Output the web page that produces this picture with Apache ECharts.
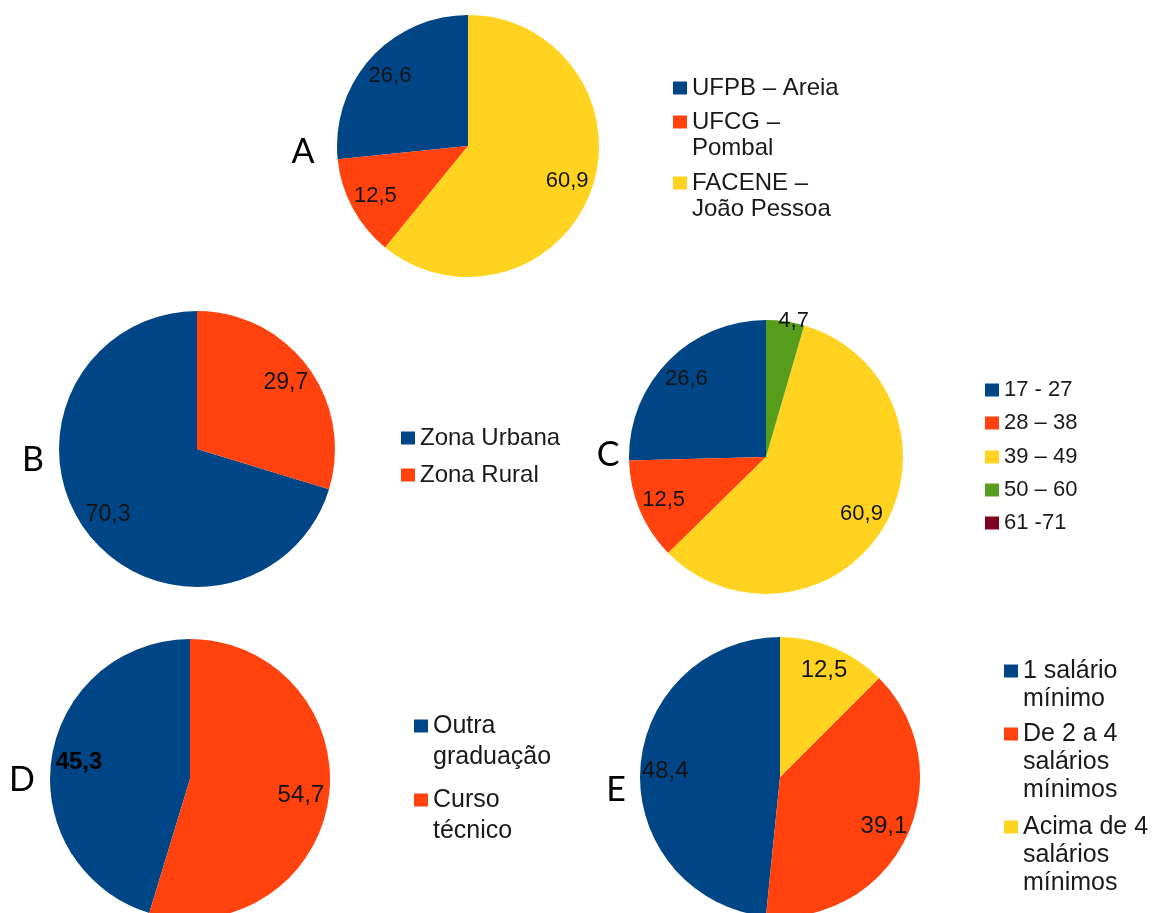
<!DOCTYPE html>
<html>
<head>
<meta charset="utf-8">
<script src="https://cdn.jsdelivr.net/npm/echarts@6/dist/echarts.min.js"></script>
<style>
  html, body { margin: 0; padding: 0; background: #ffffff; }
  #chart { width: 1161px; height: 913px; }
</style>
</head>
<body>
<div id="chart"></div>
<script>
// Perfil dos participantes (%)
const categoriesA = ['UFPB – Areia', 'UFCG –\nPombal', 'FACENE –\nJoão Pessoa'];
const valuesA = [26.6, 12.5, 60.9];

const categoriesB = ['Zona Urbana', 'Zona Rural'];
const valuesB = [70.3, 29.7];

const categoriesC = ['17 - 27', '28 – 38', '39 – 49', '50 – 60', '61 -71'];
const valuesC = [26.6, 12.5, 60.9, 4.7, 0];

const categoriesD = ['Outra\ngraduação', 'Curso\ntécnico'];
const valuesD = [45.3, 54.7];

const categoriesE = ['1 salário\nmínimo', 'De 2 a 4\nsalários\nmínimos', 'Acima de 4\nsalários\nmínimos'];
const valuesE = [48.4, 39.1, 12.5];

const panelLetters = ['A', 'B', 'C', 'D', 'E'];

// Paleta padrão
const palette = ['#004586', '#ff420e', '#ffd320', '#579d1c', '#7e0021'];

// Layout of each panel: pie centre/radius, label ring and font, letter and legend placement
const panels = [
  { cats: categoriesA, vals: valuesA, center: [468, 146], r: 131, labelRatio: 0.78, labelSize: 22,
    letter: [303, 152], legendLeft: 673, legendY: [88, 122, 183], fontSize: 24, lineH: 26 },
  { cats: categoriesB, vals: valuesB, center: [197, 449], r: 138, labelRatio: 0.78, labelSize: 23,
    letter: [33, 460], legendLeft: 401, legendY: [438, 475], fontSize: 24, lineH: 27 },
  { cats: categoriesC, vals: valuesC, center: [766, 457], r: 137, labelRatio: 0.79, labelSize: 22,
    letter: [608, 455], legendLeft: 985, legendY: [390, 423, 457, 490, 523], fontSize: 22, lineH: 26,
    labelShift: { 3: [12, -26] } },
  { cats: categoriesD, vals: valuesD, center: [190, 779], r: 140, labelRatio: 0.78, labelSize: 24,
    letter: [22, 780], legendLeft: 414, legendY: [726, 800], fontSize: 25, lineH: 31, boldFirst: true },
  { cats: categoriesE, vals: valuesE, center: [780, 777], r: 140, labelRatio: 0.80, labelSize: 24,
    letter: [616, 790], legendLeft: 1004, legendY: [671, 734, 827], fontSize: 25, lineH: 28 }
];

const fmt = v => v.toFixed(1).replace('.', ',');

const series = [];
const legends = [];
const graphics = [];

panels.forEach((p, pi) => {
  // filled slices
  series.push({
    type: 'pie',
    center: p.center,
    radius: p.r,
    startAngle: 90,
    clockwise: false,
    silent: true,
    animation: false,
    emphasis: { disabled: true },
    label: { show: false },
    labelLine: { show: false },
    data: p.cats.map((name, i) => ({
      name: name,
      value: p.vals[i],
      itemStyle: { color: palette[i] }
    }))
  });

  // transparent ring carrying the value labels
  const r0 = p.r * (2 * p.labelRatio - 1);
  series.push({
    type: 'pie',
    center: p.center,
    radius: [r0, p.r],
    startAngle: 90,
    clockwise: false,
    silent: true,
    animation: false,
    emphasis: { disabled: true },
    labelLine: { show: false },
    label: {
      show: true,
      position: 'inside',
      fontFamily: 'Liberation Sans',
      fontSize: p.labelSize,
      color: '#141414',
      formatter: prm => (prm.value ? fmt(prm.value) : '')
    },
    data: p.cats.map((name, i) => {
      const lbl = {};
      if (p.boldFirst && i === 0) { lbl.fontWeight = 'bold'; lbl.color = '#000'; }
      if (p.labelShift && p.labelShift[i]) { lbl.offset = p.labelShift[i]; }
      return {
        name: name,
        value: p.vals[i],
        itemStyle: { color: 'rgba(0,0,0,0)' },
        label: lbl
      };
    })
  });

  // one legend entry per category; leading blank lines keep the swatch
  // level with the first line of a wrapped name
  p.cats.forEach((name, i) => {
    const n = name.split('\n').length;
    const L = p.lineH;
    legends.push({
      id: 'lg' + pi + '_' + i,
      orient: 'vertical',
      left: p.legendLeft,
      top: p.legendY[i] - (2 * n - 1) * L / 2,
      padding: 0,
      itemGap: 0,
      itemWidth: 14,
      itemHeight: 13,
      icon: 'rect',
      selectedMode: false,
      data: [name],
      formatter: nm => '\n'.repeat(n - 1) + nm,
      textStyle: {
        fontFamily: 'Liberation Sans',
        fontSize: p.fontSize,
        lineHeight: L,
        color: '#1a1a1a'
      }
    });
  });

  graphics.push({
    type: 'text',
    x: p.letter[0],
    y: p.letter[1],
    style: {
      text: panelLetters[pi],
      font: '34px Lato',
      fill: '#000',
      align: 'center',
      verticalAlign: 'middle'
    }
  });
});

const chart = echarts.init(document.getElementById('chart'));
chart.setOption({
  backgroundColor: '#ffffff',
  animation: false,
  legend: legends,
  series: series,
  graphic: graphics
});
</script>
</body>
</html>
